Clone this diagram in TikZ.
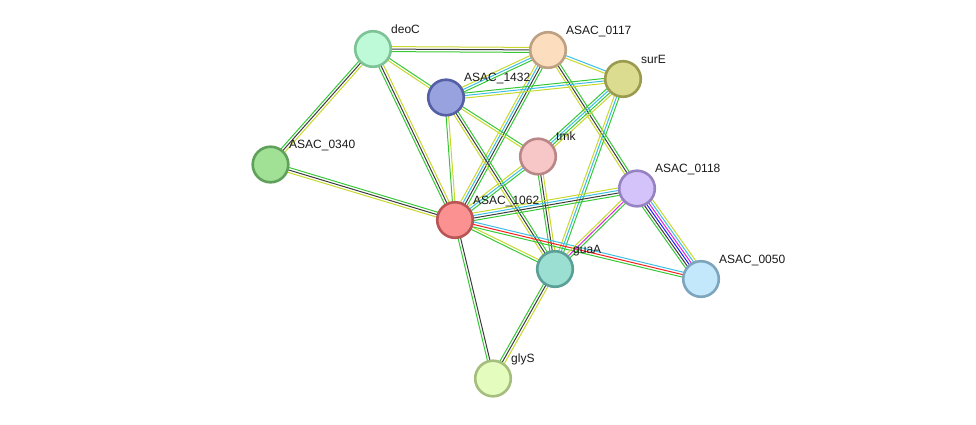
\documentclass[tikz,border=0pt]{standalone}
\usepackage{fontspec}
\setmainfont{Liberation Sans}
\usetikzlibrary{calc}
\pgfdeclarelayer{bg}
\pgfsetlayers{bg,main}
\definecolor{sgreen}{RGB}{55,200,55}
\definecolor{syg}{RGB}{200,216,45}
\definecolor{sblack}{RGB}{60,60,60}
\definecolor{scyan}{RGB}{60,190,230}
\definecolor{sred}{RGB}{250,30,30}
\definecolor{sblue}{RGB}{30,30,250}
\definecolor{smag}{RGB}{220,40,220}
\tikzset{
  prot/.style n args={2}{circle, minimum size=35.6pt, inner sep=0pt, line width=2.6pt, fill=#1, draw=#2},
  plabel/.style={anchor=base west, inner sep=0pt, font=\fontsize{12}{14}\selectfont, text=black!90},
  eline/.style={line width=1.0pt}
}
\newcommand\sedge[4]{%
  \foreach \c [count=\i] in {#4}{%
    \pgfmathsetmacro\o{(\i-(#3+1)/2)*2.5}%
    \draw[eline,draw=\c] ($(#1.center)!\o pt!90:(#2.center)$) -- ($(#2.center)!\o pt!-90:(#1.center)$);%
  }%
}
\begin{document}
\begin{tikzpicture}[x=1pt,y=-1pt]
\useasboundingbox (0,0) rectangle (976,424);
% nodes
\node[prot={{rgb,255:red,190;green,250;blue,215}}{{rgb,255:red,125;green,195;blue,150}}] (deoC) at (373,49) {};
\node[prot={{rgb,255:red,252;green,222;blue,190}}{{rgb,255:red,190;green,160;blue,130}}] (a0117) at (548,50) {};
\node[prot={{rgb,255:red,220;green,220;blue,145}}{{rgb,255:red,155;green,155;blue,80}}] (surE) at (623,79) {};
\node[prot={{rgb,255:red,152;green,162;blue,222}}{{rgb,255:red,85;green,95;blue,165}}] (a1432) at (446,97.5) {};
\node[prot={{rgb,255:red,160;green,225;blue,150}}{{rgb,255:red,95;green,160;blue,90}}] (a0340) at (270.5,164.5) {};
\node[prot={{rgb,255:red,247;green,198;blue,198}}{{rgb,255:red,185;green,135;blue,135}}] (tmk) at (538,156.5) {};
\node[prot={{rgb,255:red,212;green,195;blue,250}}{{rgb,255:red,150;green,130;blue,195}}] (a0118) at (637,188.5) {};
\node[prot={{rgb,255:red,252;green,145;blue,145}}{{rgb,255:red,185;green,85;blue,85}}] (a1062) at (455,220) {};
\node[prot={{rgb,255:red,155;green,222;blue,210}}{{rgb,255:red,90;green,160;blue,150}}] (guaA) at (555,269) {};
\node[prot={{rgb,255:red,195;green,232;blue,252}}{{rgb,255:red,125;green,165;blue,190}}] (a0050) at (701,279) {};
\node[prot={{rgb,255:red,228;green,252;blue,190}}{{rgb,255:red,165;green,190;blue,125}}] (glyS) at (493,378.5) {};
% labels
\node[plabel] (ldeoC) at (391,33) {deoC};
\node[plabel] (l0117) at (566,34) {ASAC\_0117};
\node[plabel] (lsurE) at (641,63) {surE};
\node[plabel] (l1432) at (464,81) {ASAC\_1432};
\node[plabel] (l0340) at (289,148) {ASAC\_0340};
\node[plabel] (ltmk) at (556,140) {tmk};
\node[plabel] (l0118) at (655,172) {ASAC\_0118};
\node[plabel] (l1062) at (473,204) {ASAC\_1062};
\node[plabel] (lguaA) at (573,253) {guaA};
\node[plabel] (l0050) at (719,263) {ASAC\_0050};
\node[plabel] (lglyS) at (511,362) {glyS};
% edges
\begin{pgfonlayer}{bg}
\sedge{deoC}{a0117}{3}{sgreen,sblack,syg}
\sedge{deoC}{a1432}{2}{syg,sgreen}
\sedge{deoC}{a1062}{3}{sgreen,sblack,syg}
\sedge{deoC}{a0340}{3}{sgreen,sblack,syg}
\sedge{a0340}{a1062}{3}{syg,sblack,sgreen}
\sedge{a0117}{a1432}{3}{syg,scyan,sgreen}
\sedge{a0117}{surE}{2}{syg,scyan}
\sedge{a0117}{a1062}{4}{syg,scyan,sblack,sgreen}
\sedge{a0117}{a0118}{3}{syg,sblack,sgreen}
\sedge{surE}{a1432}{3}{sgreen,scyan,syg}
\sedge{surE}{tmk}{4}{sgreen,scyan,sgreen,syg}
\sedge{surE}{guaA}{3}{syg,scyan,sgreen}
\sedge{a1432}{a1062}{2}{sgreen,syg}
\sedge{a1432}{guaA}{3}{syg,sblack,sgreen}
\sedge{a1432}{tmk}{2}{syg,sgreen}
\sedge{tmk}{guaA}{3}{sgreen,sblack,syg}
\sedge{tmk}{a1062}{3}{syg,scyan,sgreen}
\sedge{a1062}{a0118}{4}{sgreen,sblack,scyan,syg}
\sedge{a1062}{guaA}{2}{sgreen,syg}
\sedge{a1062}{a0050}{3}{sgreen,sred,scyan}
\sedge{a1062}{glyS}{2}{sgreen,sblack}
\sedge{guaA}{glyS}{3}{sgreen,sblack,syg}
\sedge{guaA}{a0118}{3}{sgreen,smag,syg}
\sedge{a0118}{a0050}{6}{sgreen,sblack,sblue,smag,scyan,syg}
\end{pgfonlayer}
\end{tikzpicture}
\end{document}
